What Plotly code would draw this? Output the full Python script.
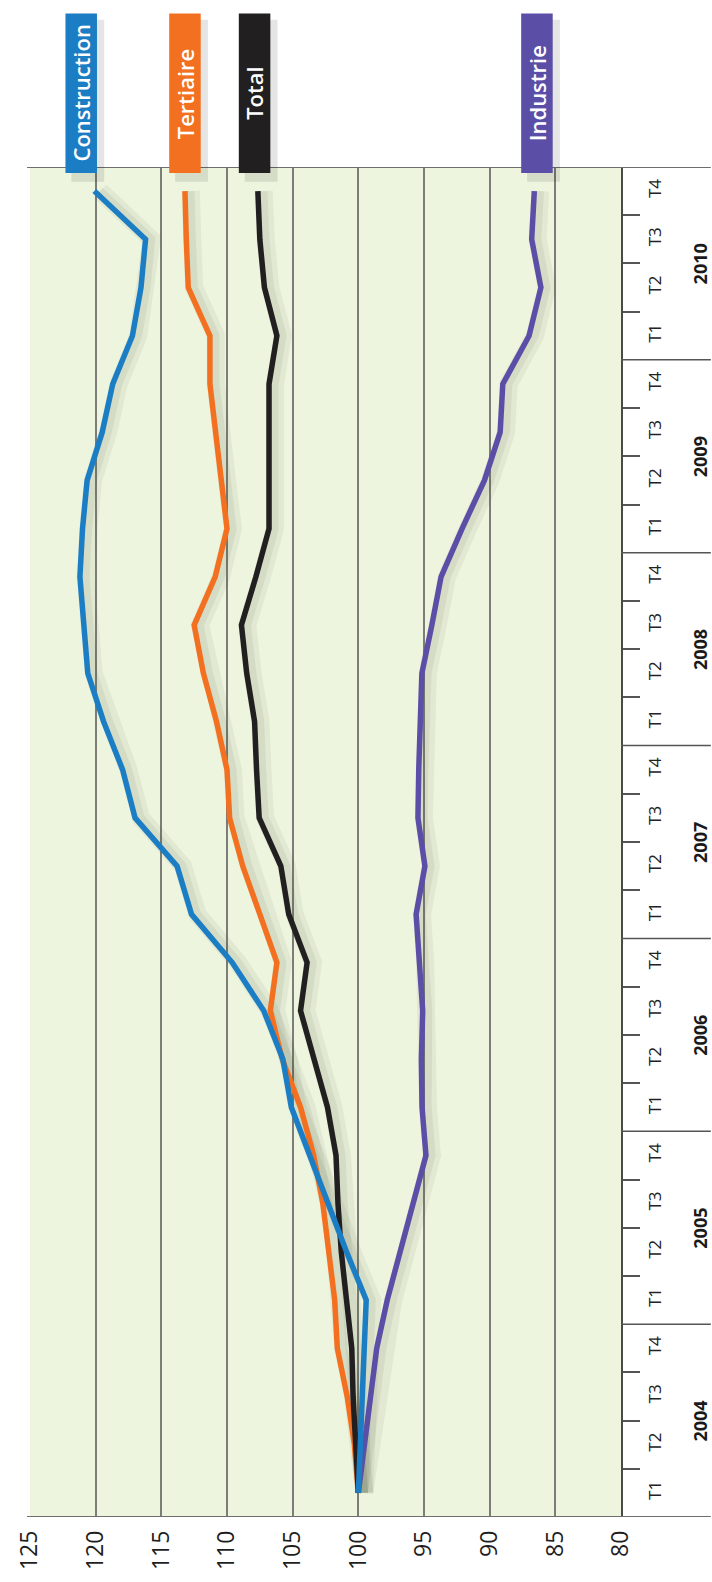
import plotly.graph_objects as go

# ---------------- data ----------------
years = ["2004", "2005", "2006", "2007", "2008", "2009", "2010"]
quarter_names = ["T1", "T2", "T3", "T4"]
quarters = [q for _ in years for q in quarter_names]

construction = [100, 99.85, 99.7, 99.55, 99.4, 100.9, 102.3, 103.7, 105.1, 105.75,
                107.2, 109.6, 112.7, 113.8, 117.0, 117.95, 119.4, 120.6, 120.9, 121.2,
                121.0, 120.65, 119.5, 118.7, 117.2, 116.55, 116.2, 120.1]
tertiaire = [100, 100.3, 100.85, 101.6, 101.8, 102.2, 102.7, 103.4, 104.4, 105.8,
             106.7, 106.2, 107.5, 108.8, 109.8, 110.0, 110.8, 111.8, 112.5, 110.9,
             110.0, 110.45, 110.9, 111.3, 111.3, 112.95, 113.1, 113.2]
total = [100, 100.25, 100.4, 100.5, 100.9, 101.3, 101.55, 101.7, 102.35, 103.4,
         104.4, 103.9, 105.3, 105.9, 107.55, 107.75, 107.9, 108.5, 108.9, 107.8,
         106.8, 106.8, 106.8, 106.8, 106.2, 107.15, 107.5, 107.65]
industrie = [100, 99.5, 99.05, 98.6, 97.8, 96.8, 95.8, 94.85, 95.15, 95.2,
             95.1, 95.36, 95.6, 94.93, 95.46, 95.4, 95.26, 95.16, 94.4, 93.7,
             92.1, 90.4, 89.2, 89.0, 87.0, 86.1, 86.8, 86.6]

series_names = ["Industrie", "Tertiaire", "Total", "Construction"]
series_values = [industrie, tertiaire, total, construction]
value_ticks = [80, 85, 90, 95, 100, 105, 110, 115, 120, 125]

# ---------------- style ----------------
colors = {"Construction": "#1b7dc4", "Tertiaire": "#f37021",
          "Total": "#221f20", "Industrie": "#5a4ea6"}
label_centers = {"Construction": 121.1, "Tertiaire": 113.2,
                 "Total": 107.9, "Industrie": 86.4}
FONT = "Open Sans"
n = len(quarters)
idx = list(range(n))

fig = go.Figure()

# soft shadows
for name, vals in zip(series_names, series_values):
    fig.add_trace(go.Scatter(
        x=[v - 0.45 for v in vals], y=idx, mode="lines",
        line=dict(color="rgba(70,80,50,0.07)", width=18),
        hoverinfo="skip", showlegend=False))
    fig.add_trace(go.Scatter(
        x=[v - 0.35 for v in vals], y=idx, mode="lines",
        line=dict(color="rgba(70,80,50,0.08)", width=10),
        hoverinfo="skip", showlegend=False))

for name, vals in zip(series_names, series_values):
    fig.add_trace(go.Scatter(
        x=vals, y=idx, mode="lines", name=name,
        line=dict(color=colors[name], width=5.5),
        showlegend=False))

shapes = []
annotations = []
XR = 1.152  # paper x of the right page edge

# top & bottom borders extended to the right edge
for yb in (-0.5, n - 0.5):
    shapes.append(dict(type="line", xref="paper", yref="y", x0=-0.005, x1=XR,
                       y0=yb, y1=yb, line=dict(color="#6e6e6a", width=2), layer="above"))
# year separators on the right
for k in range(1, len(years)):
    yb = 4 * k - 0.5
    shapes.append(dict(type="line", xref="paper", yref="y", x0=1, x1=XR,
                       y0=yb, y1=yb, line=dict(color="#555555", width=1.5)))
# year labels
for k, yr in enumerate(years):
    annotations.append(dict(xref="paper", yref="y", x=1.1336, y=4 * k + 1.5,
                            text="<b>" + yr + "</b>", textangle=-90, showarrow=False,
                            xanchor="center", yanchor="middle",
                            font=dict(family=FONT, size=18, color="#1a1a1a")))
# series label boxes
for name in ["Construction", "Tertiaire", "Total", "Industrie"]:
    c = label_centers[name]
    shapes.append(dict(type="rect", xref="x", yref="paper", x0=c + 0.75, x1=c - 1.75,
                       y0=0.989, y1=1.109, fillcolor="rgba(0,0,0,0.10)", line=dict(width=0),
                       layer="above"))
    shapes.append(dict(type="rect", xref="x", yref="paper", x0=c + 1.2, x1=c - 1.2,
                       y0=0.9956, y1=1.1137, fillcolor=colors[name], line=dict(width=0),
                       layer="above"))
    annotations.append(dict(xref="x", yref="paper", x=c, y=1.0546, text=name,
                            textangle=-90, showarrow=False, xanchor="center", yanchor="middle",
                            font=dict(family=FONT, size=22, color="white", weight=600)))

fig.update_layout(
    width=712, height=1582,
    margin=dict(l=22, r=91, t=167, b=60, pad=0),
    paper_bgcolor="white",
    plot_bgcolor="#eef5df",
    font=dict(family=FONT, color="#222222"),
    shapes=shapes,
    annotations=annotations,
    xaxis=dict(
        range=[125, 80], tickmode="array", tickvals=value_ticks,
        ticktext=[str(v) for v in value_ticks],
        tickangle=-90, ticks="", ticklabelstandoff=8,
        tickfont=dict(family=FONT, size=23, color="#1e1e1e"),
        showgrid=True, gridcolor="#7c7d76", gridwidth=1.5,
        zeroline=False, showline=False, fixedrange=True),
    yaxis=dict(
        range=[-0.5, n - 0.5], side="right", tickmode="array", tickvals=idx,
        ticktext=quarters, tickangle=-90, ticks="", ticklabelstandoff=18,
        tickfont=dict(family=FONT, size=17, color="#222222"),
        minor=dict(tickvals=[i + 0.5 for i in range(n - 1) if (i + 1) % 4 != 0],
                   ticks="outside", ticklen=17, tickwidth=1.5, tickcolor="#555555",
                   showgrid=False),
        showgrid=False, zeroline=False, showline=True, linecolor="#4a4a4a", linewidth=2,
        fixedrange=True),
)

fig.write_html("out.html")
